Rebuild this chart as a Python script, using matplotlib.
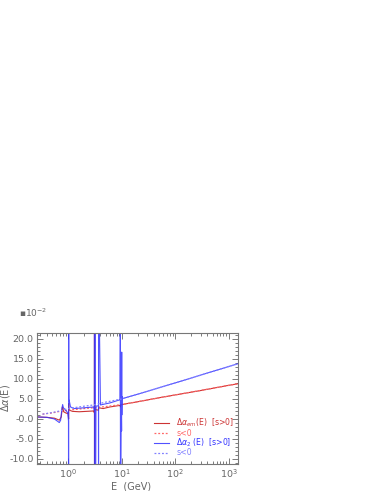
import matplotlib
matplotlib.use('Agg')
import matplotlib.pyplot as plt
from matplotlib.ticker import AutoMinorLocator, LogLocator, NullFormatter

# Δα_em(E), s>0 (red, solid)
E_em = [0.26, 0.4, 0.55, 0.68, 0.74, 0.775, 0.79, 0.82, 0.9, 1.0, 1.015, 1.019, 1.022,
        1.05, 1.2, 1.6, 2.2, 3.0, 3.09, 3.096, 3.098, 3.11, 3.3, 3.68, 3.69, 4.5, 6.0,
        9.4, 9.46, 9.5, 10.0, 20.0, 50.0, 100.0, 300.0, 1000.0, 1500.0]
da_em = [0.5, 0.4, 0.2, -0.3, 0.5, 3.0, 2.8, 1.8, 1.5, 1.3, 0.0, 3.8, 2.5,
         2.2, 1.9, 1.8, 1.9, 2.0, 1.5, 40.0, -40.0, 2.6, 2.3, 2.2, 2.8, 2.6, 3.0,
         3.4, 3.0, 3.5, 3.6, 4.3, 5.3, 6.0, 7.1, 8.4, 8.8]

# Δα_em(E), s<0 (light red, dotted)
E_em_neg = [0.33, 0.5, 0.7, 1.0, 2.0, 3.0, 5.0, 10.0, 100.0, 1500.0]
da_em_neg = [1.2, 1.5, 1.9, 2.2, 2.6, 2.8, 3.1, 3.6, 6.0, 8.8]

# Δα_2(E), s>0 (blue, solid)
E_2 = [0.26, 0.4, 0.55, 0.62, 0.68, 0.72, 0.76, 0.785, 0.81, 0.9, 0.98, 1.01, 1.015,
       1.019, 1.022, 1.03, 1.1, 1.3, 2.0, 3.0, 3.09, 3.096, 3.098, 3.15, 3.2, 3.3,
       3.68, 3.686, 3.69, 4.0, 6.0, 9.3, 9.455, 9.465, 9.8, 9.95, 10.0, 10.03,
       10.1, 10.4, 20.0, 100.0, 1000.0, 1500.0]
da_2 = [0.5, 0.4, 0.0, -0.5, -0.9, -0.3, 2.5, 3.6, 2.8, 2.2, 1.5, -0.5, -40.0,
        40.0, 11.0, 5.0, 3.0, 2.6, 2.8, 3.0, 2.0, 40.0, -40.0, 40.0, -40.0, 3.2,
        3.3, -40.0, 40.0, 3.5, 4.0, 4.8, 40.0, -40.0, 4.8, -3.0, 16.7, 1.0,
        5.6, 5.1, 6.2, 9.0, 13.1, 13.8]

# Δα_2(E), s<0 (light blue, dotted)
E_2_neg = [0.33, 0.5, 0.7, 1.0, 2.0, 3.0, 5.0, 10.0, 100.0, 1500.0]
da_2_neg = [1.2, 1.6, 2.0, 2.6, 3.2, 3.5, 4.2, 5.0, 9.0, 13.8]

yticks = [-10, -5, 0, 5, 10, 15, 20]
ytick_labels = ['-10.0', '-5.0', '-0.0', '5.0', '10.0', '15.0', '20.0']
xticks = [1, 10, 100, 1000]
xtick_labels = ['$10^{0}$', '$10^{1}$', '$10^{2}$', '$10^{3}$']

grey = '#666666'

fig = plt.figure(figsize=(3.79, 4.91), dpi=100)
ax = fig.add_axes([0.0976, 0.055, 0.5304, 0.267])

ax.plot(E_em, da_em, color='#cc3333', lw=0.8, label=r'$\Delta\alpha_{em}$(E)  [s>0]')
ax.plot(E_em_neg, da_em_neg, color='#ff6666', lw=0.9, ls=(0, (1.5, 1.5)), label='s<0')
ax.plot(E_2, da_2, color='#3333ff', lw=0.8, alpha=0.85, label=r'$\Delta\alpha_{2}$ (E)  [s>0]')
ax.plot(E_2_neg, da_2_neg, color='#8080ff', lw=0.9, ls=(0, (1.5, 1.5)), label='s<0')

ax.set_xscale('log')
ax.set_xlim(0.26, 1500)
ax.set_ylim(-11.25, 21.5)
ax.set_yticks(yticks)
ax.set_yticklabels(ytick_labels)
ax.set_xticks(xticks)
ax.set_xticklabels(xtick_labels)
ax.xaxis.set_minor_locator(LogLocator(base=10, subs=range(2, 10), numticks=20))
ax.xaxis.set_minor_formatter(NullFormatter())
ax.yaxis.set_minor_locator(AutoMinorLocator(5))

ax.tick_params(which='both', direction='in', top=True, right=True, colors=grey,
               labelsize=6.8, width=0.6, pad=2.5)
ax.tick_params(which='major', length=4)
ax.tick_params(which='minor', length=2)
for s in ax.spines.values():
    s.set_color('#777777')
    s.set_linewidth(0.8)

ax.set_ylabel(r'$\Delta\alpha$(E)', color=grey, fontsize=7)
ax.yaxis.set_label_coords(-0.125, 0.5)
ax.set_xlabel('E  (GeV)', color=grey, fontsize=7)
ax.xaxis.set_label_coords(0.47, -0.135)

leg = ax.legend(loc='lower right', frameon=False, fontsize=5.6, handlelength=2.0,
                handletextpad=0.9, labelspacing=-0.1, borderaxespad=0.1,
                bbox_to_anchor=(1.0, 0.02),
                labelcolor=['#cc3333', '#ff6666', '#3333ff', '#8080ff'])

fig.text(0.05, 0.362, '\u25aa$10^{-2}$', color=grey, fontsize=6.5, va='center')

fig.savefig('out.png', dpi=100)
